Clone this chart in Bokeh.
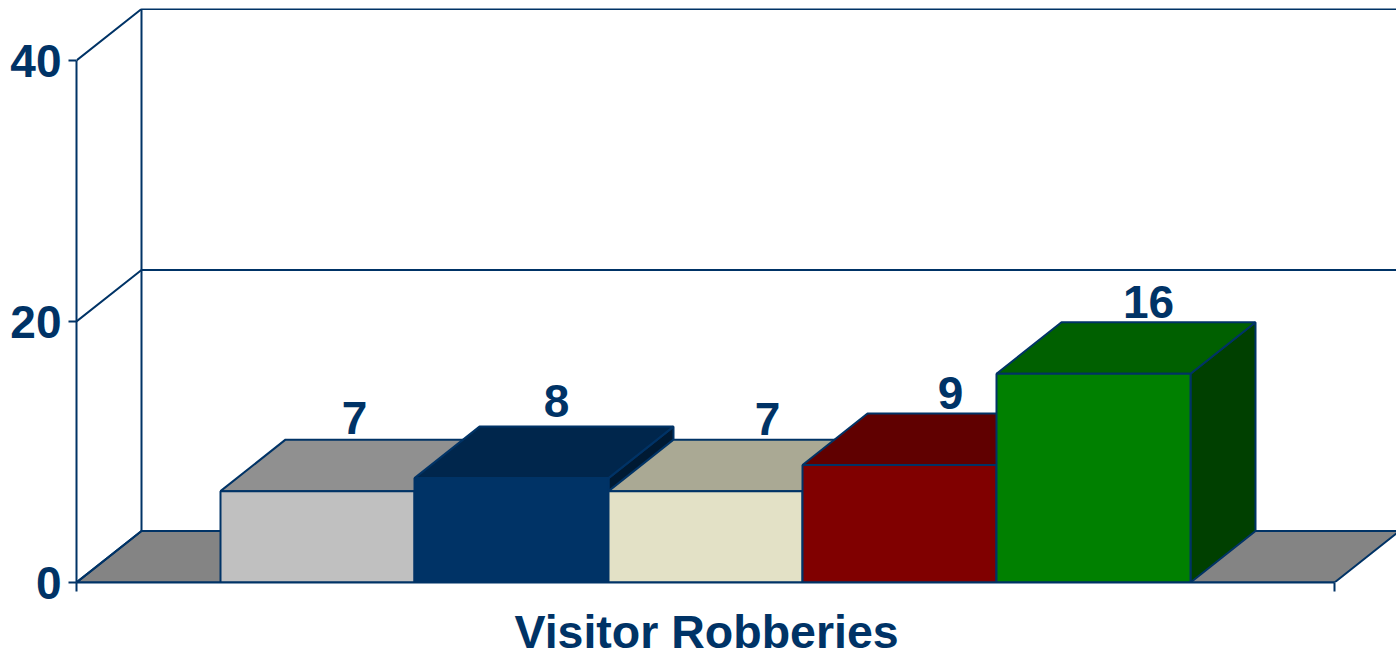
from bokeh.plotting import figure
from bokeh.models import FixedTicker, Range1d, Title
from bokeh.core.properties import value
from bokeh.embed import file_html
from bokeh.resources import INLINE

# data
categories = ["A", "B", "C", "D", "E"]
robberies = [7, 8, 7, 9, 16]
value_labels = ["7", "8", "7", "9", "16"]
y_ticks = [0, 20, 40]
axis_title = "Visitor Robberies"

# colours
front_colors = ["#C0C0C0", "#003366", "#E3E1C6", "#800000", "#008000"]
top_colors = ["#909090", "#00264C", "#AAA994", "#600000", "#006000"]
side_colors = ["#808080", "#001A33", "#8A8974", "#400000", "#004000"]
LINE = "#003366"
FLOOR = "#848484"
FONT = "Liberation Sans"
LW = 2

# layout (px-derived scale factors)
PX_X = 194.0
PX_Y = 13.05
FRAME_W, FRAME_H = 1320, 574
X_END = 1258 / PX_X
DX = 65 / PX_X
DY = 51.5 / PX_Y
BAR0 = 144 / PX_X
label_dx = [37, 45, 62, 51, 55]
label_dy = [22, 26, 21, 21, 20]

p = figure(width=1396, height=670, output_backend="svg", toolbar_location=None,
           x_range=Range1d(0, FRAME_W / PX_X), y_range=Range1d(0, FRAME_H / PX_Y),
           min_border_left=76, min_border_right=0, min_border_top=8, min_border_bottom=88,
           outline_line_color=None, background_fill_color="white", border_fill_color="white")
p.grid.visible = False

# floor
p.patch([0, X_END, X_END + DX, DX], [0, 0, DY, DY], fill_color=FLOOR, line_color=LINE, line_width=LW)

# back wall and side wall lines
for t in y_ticks:
    p.line([0, DX, X_END + 2], [t, t + DY, t + DY], line_color=LINE, line_width=LW)
p.line([DX, DX], [DY, y_ticks[-1] + DY], line_color=LINE, line_width=LW)

# bars, left to right so each one overlaps the previous
for i, v in enumerate(robberies):
    x0 = BAR0 + i
    x1 = x0 + 1
    p.patch([x1, x1 + DX, x1 + DX, x1], [0, DY, v + DY, v], fill_color=side_colors[i], line_color=LINE, line_width=LW)
    p.patch([x0, x1, x1 + DX, x0 + DX], [v, v, v + DY, v + DY], fill_color=top_colors[i], line_color=LINE, line_width=LW)
    p.patch([x0, x1, x1, x0], [0, 0, v, v], fill_color=front_colors[i], line_color=LINE, line_width=LW)

# value labels
for i, v in enumerate(robberies):
    p.text([BAR0 + i + 0.5 + label_dx[i] / PX_X], [v + DY + label_dy[i] / PX_Y], text=[value_labels[i]],
           text_font=value(FONT), text_font_style="bold", text_font_size="46px",
           text_color=LINE, text_align="center", text_baseline="alphabetic")

# axes
ya = p.yaxis[0]
ya.ticker = FixedTicker(ticks=y_ticks)
ya.bounds = (y_ticks[0], y_ticks[-1])
ya.axis_line_color = LINE
ya.axis_line_width = LW
ya.major_tick_line_color = LINE
ya.major_tick_line_width = LW
ya.major_tick_in = 0
ya.major_tick_out = 8
ya.minor_tick_line_color = None
ya.major_label_standoff = 7
ya.major_label_text_font = FONT
ya.major_label_text_font_style = "bold"
ya.major_label_text_font_size = "46px"
ya.major_label_text_color = LINE

xa = p.xaxis[0]
xa.ticker = FixedTicker(ticks=[], minor_ticks=[0, X_END])
xa.bounds = (0, X_END)
xa.axis_line_color = LINE
xa.axis_line_width = LW
xa.minor_tick_line_color = LINE
xa.minor_tick_line_width = LW
xa.minor_tick_in = 0
xa.minor_tick_out = 9

p.add_layout(Title(text=axis_title, align="left", offset=438, standoff=24, text_font=FONT,
                   text_font_style="bold", text_font_size="46.5px", text_color=LINE), "below")

open("out.html", "w").write(file_html(p, INLINE))
